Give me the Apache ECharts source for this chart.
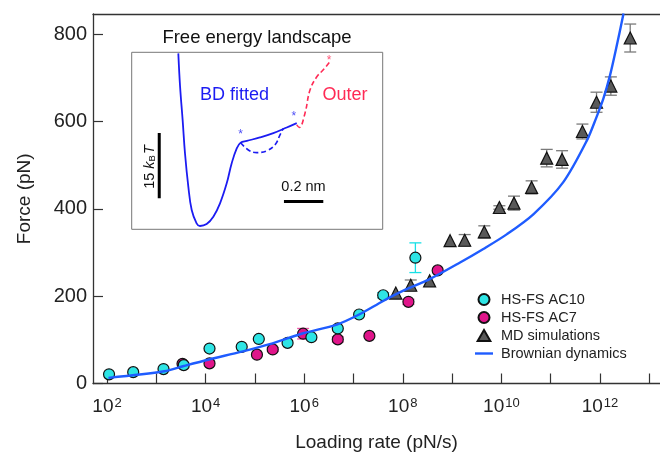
<!DOCTYPE html>
<html>
<head>
<meta charset="utf-8">
<script src="https://cdn.jsdelivr.net/npm/echarts@6/dist/echarts.min.js"></script>
<style>
  html, body { margin: 0; padding: 0; background: #fff; }
  #chart { width: 660px; height: 455px; }
</style>
</head>
<body>
<div id="chart"></div>
<script>
// loading rate (pN/s), force (pN), error (pN)
var ac10Rate  = [1.1e2, 3.4e2, 1.4e3, 3.6e3, 1.2e4, 5.4e4, 1.2e5, 4.6e5, 1.4e6, 4.8e6, 1.3e7, 4.0e7, 1.8e8];
var ac10Force = [21, 26, 33, 42, 80, 84, 102, 93, 106, 126, 158, 202, 288];
var ac10Err   = [0, 0, 0, 0, 0, 0, 0, 0, 0, 0, 0, 6, 34];

var ac7Rate  = [3.4e3, 1.2e4, 1.1e5, 2.3e5, 9.5e5, 4.8e6, 2.1e7, 1.3e8, 5.1e8];
var ac7Force = [45, 46, 66, 78, 114, 101, 109, 187, 259];
var ac7Err   = [0, 0, 0, 4, 12, 6, 0, 6, 0];

var mdRate  = [7.2e7, 1.45e8, 3.5e8, 9.1e8, 1.8e9, 4.5e9, 9.1e9, 1.8e10, 4.1e10, 8.3e10, 1.7e11, 4.4e11, 8.5e11, 1.66e12, 4.1e12];
var mdForce = [207, 225, 235, 327, 328, 347, 403, 413, 449, 516, 513, 577, 644, 681, 791];
var mdErr   = [0, 12, 0, 0, 13, 14, 4, 16, 15, 20, 20, 17, 23, 21, 32];

var bdRate  = [1.07e2, 1.45e3, 3.6e3, 1.17e4, 5.4e4, 2.0e5, 9.5e5, 4.6e6, 1.3e7, 4.0e7, 1.0e8, 3.5e8, 1.45e9, 4.3e9, 1.3e10, 4.5e10, 1.8e11, 5.4e11, 8.5e11, 1.17e12, 1.6e12, 2.2e12, 3.0e12];
var bdForce = [13, 28, 40, 55, 73, 90, 115, 135, 158, 189, 212, 239, 277, 308, 342, 388, 461, 556, 610, 652, 706, 775, 847];

var rateTicks  = [1e2, 1e3, 1e4, 1e5, 1e6, 1e7, 1e8, 1e9, 1e10, 1e11, 1e12, 1e13];
var rateLabels = [1e2, 1e4, 1e6, 1e8, 1e10, 1e12];
var forceTicks = [0, 200, 400, 600, 800];

// inset: free energy landscape, position (nm) vs energy (kBT)
var fitX = [0.237, 0.246, 0.259, 0.271, 0.288, 0.305, 0.330, 0.347, 0.381, 0.415, 0.449, 0.483, 0.508, 0.534, 0.554, 0.585, 0.652, 0.720, 0.788, 0.839];
var fitE = [40.6, 32.9, 25.2, 17.5, 9.8, 4.45, 1.38, 0.76, 1.22, 2.9, 6.0, 10.6, 15.2, 18.7, 20.0, 20.4, 21.2, 22.2, 23.5, 24.5];
var altX = [0.554, 0.593, 0.636, 0.686, 0.729, 0.754, 0.771];
var altE = [20.0, 18.3, 17.7, 18.1, 19.5, 21.8, 23.3];
var outerX = [0.839, 0.852, 0.881, 0.906, 0.941, 0.974, 1.008];
var outerE = [24.1, 23.5, 26.8, 32.1, 35.2, 36.8, 38.7];
var starBlueX = [0.554, 0.824];
var starBlueE = [21.8, 25.9];
var starRedX = [1.003];
var starRedE = [38.8];
var barNmX = [0.774, 0.974];
var barNmE = [6.4, 6.4];
var barKtX = [0.140, 0.140];
var barKtE = [7.15, 22.2];

var FONT = "'Liberation Sans', Arial, Helvetica, sans-serif";

function zip(a, b, c) {
  return a.map(function (v, i) { return c ? [v, b[i], c[i]] : [v, b[i]]; });
}
function withErr(a, b, c) {
  return zip(a, b, c).filter(function (d) { return d[2] > 0; });
}

function errorBars(color, cap) {
  return function (params, api) {
    var x = api.value(0), y = api.value(1), e = api.value(2);
    var lo = api.coord([x, y - e]);
    var hi = api.coord([x, y + e]);
    var st = { stroke: color, lineWidth: 1.3 };
    return {
      type: 'group',
      children: [
        { type: 'line', shape: { x1: lo[0], y1: lo[1], x2: hi[0], y2: hi[1] }, style: st },
        { type: 'line', shape: { x1: lo[0] - cap, y1: lo[1], x2: lo[0] + cap, y2: lo[1] }, style: st },
        { type: 'line', shape: { x1: hi[0] - cap, y1: hi[1], x2: hi[0] + cap, y2: hi[1] }, style: st }
      ]
    };
  };
}

var chart = echarts.init(document.getElementById('chart'), null, { renderer: 'canvas' });

var axisColor = '#333';
var blue = '#1f5cff';
var insetBlue = '#1c1cf2';
var red = '#ff2a55';

chart.setOption({
  backgroundColor: '#fff',
  animation: false,
  textStyle: { fontFamily: FONT },
  grid: [
    { left: 93, top: 14, right: 0, bottom: 71.5, containLabel: false, outerBoundsMode: 'none' },
    { left: 131.7, top: 52.3, width: 251, height: 177, show: true, outerBoundsMode: 'none',
      borderColor: '#777', borderWidth: 1, backgroundColor: '#fff', z: 10 }
  ],
  xAxis: [
    {
      type: 'log', gridIndex: 0, min: 52, max: 1.648e13,
      name: 'Loading rate (pN/s)', nameLocation: 'middle', nameGap: 50,
      nameTextStyle: { fontSize: 19, color: '#222', fontFamily: FONT },
      axisLine: { lineStyle: { color: axisColor, width: 1.3 } },
      axisTick: { inside: true, length: 10, customValues: rateTicks, lineStyle: { color: axisColor, width: 1.2 } },
      axisLabel: {
        customValues: rateLabels, margin: 13, color: '#222', fontSize: 19, fontFamily: FONT,
        formatter: function (v) { return '10{sup|' + Math.round(Math.log10(v)) + '}'; },
        rich: { sup: { fontSize: 13, verticalAlign: 'top', padding: [0, 0, 8, 1], fontFamily: FONT, color: '#222' } }
      },
      splitLine: { show: false }
    },
    {
      type: 'log', gridIndex: 0, position: 'top', min: 52, max: 1.648e13,
      axisLine: { lineStyle: { color: axisColor, width: 1.3 } },
      axisTick: { show: false }, axisLabel: { show: false }, splitLine: { show: false }
    },
    { type: 'value', gridIndex: 1, min: 0, max: 1.276, show: false }
  ],
  yAxis: [
    {
      type: 'value', gridIndex: 0, min: 0, max: 846,
      name: 'Force (pN)', nameLocation: 'middle', nameGap: 59,
      nameTextStyle: { fontSize: 19, color: '#222', fontFamily: FONT },
      axisLine: { show: true, lineStyle: { color: axisColor, width: 1.3 } },
      axisTick: { inside: true, length: 10, customValues: forceTicks, lineStyle: { color: axisColor, width: 1.2 } },
      axisLabel: { customValues: forceTicks, margin: 6, color: '#222', fontSize: 20, fontFamily: FONT },
      splitLine: { show: false }
    },
    { type: 'value', gridIndex: 1, min: 0, max: 40.85, show: false }
  ],
  legend: {
    orient: 'vertical', left: 475, top: 292, padding: 0,
    itemWidth: 18, itemHeight: 11, itemGap: 3,
    selectedMode: false,
    textStyle: { fontSize: 14.5, lineHeight: 15, color: '#222', fontFamily: FONT, padding: [0, 0, 0, 3] },
    data: [
      { name: 'HS-FS AC10' },
      { name: 'HS-FS AC7' },
      { name: 'MD simulations', icon: 'path://M6,0L12,10.4L0,10.4Z' },
      { name: 'Brownian dynamics', icon: 'path://M0,0L18,0L18,2.4L0,2.4Z' }
    ]
  },
  series: [
    {
      name: 'AC10 err', type: 'custom', xAxisIndex: 0, yAxisIndex: 0, z: 1,
      renderItem: errorBars('#19e0e6', 6), data: withErr(ac10Rate, ac10Force, ac10Err)
    },
    {
      name: 'AC7 err', type: 'custom', xAxisIndex: 0, yAxisIndex: 0, z: 1,
      renderItem: errorBars('#ee5aaa', 6), data: withErr(ac7Rate, ac7Force, ac7Err)
    },
    {
      name: 'MD err', type: 'custom', xAxisIndex: 0, yAxisIndex: 0, z: 1,
      renderItem: errorBars('#7a7a7a', 6), data: withErr(mdRate, mdForce, mdErr)
    },
    {
      name: 'HS-FS AC10', type: 'scatter', xAxisIndex: 0, yAxisIndex: 0, z: 4,
      symbol: 'circle', symbolSize: 11,
      itemStyle: { color: '#2ee5e5', borderColor: '#111', borderWidth: 1.2, opacity: 1 },
      data: zip(ac10Rate, ac10Force)
    },
    {
      name: 'HS-FS AC7', type: 'scatter', xAxisIndex: 0, yAxisIndex: 0, z: 3,
      symbol: 'circle', symbolSize: 11,
      itemStyle: { color: '#e0158a', borderColor: '#111', borderWidth: 1.2, opacity: 1 },
      data: zip(ac7Rate, ac7Force)
    },
    {
      name: 'MD simulations', type: 'scatter', xAxisIndex: 0, yAxisIndex: 0, z: 4,
      symbol: 'triangle', symbolSize: 12,
      itemStyle: { color: '#595959', borderColor: '#111', borderWidth: 1.2, opacity: 1 },
      data: zip(mdRate, mdForce)
    },
    {
      name: 'Brownian dynamics', type: 'line', xAxisIndex: 0, yAxisIndex: 0, z: 5,
      symbol: 'none', smooth: 0.3,
      lineStyle: { color: blue, width: 2.4 }, itemStyle: { color: blue },
      data: zip(bdRate, bdForce)
    },
    // inset
    {
      name: 'fit', type: 'line', xAxisIndex: 2, yAxisIndex: 1, z: 12, symbol: 'none', smooth: 0.4,
      lineStyle: { color: insetBlue, width: 1.8 }, data: zip(fitX, fitE)
    },
    {
      name: 'alt', type: 'line', xAxisIndex: 2, yAxisIndex: 1, z: 12, symbol: 'none', smooth: 0.4,
      lineStyle: { color: insetBlue, width: 1.6, type: [5, 3] }, data: zip(altX, altE)
    },
    {
      name: 'outer', type: 'line', xAxisIndex: 2, yAxisIndex: 1, z: 12, symbol: 'none', smooth: 0.4,
      lineStyle: { color: red, width: 1.6, type: [5, 3] }, data: zip(outerX, outerE)
    },
    {
      name: 'starsBlue', type: 'scatter', xAxisIndex: 2, yAxisIndex: 1, z: 12, symbolSize: 0,
      label: { show: true, position: 'inside', formatter: '*', color: insetBlue, fontSize: 12 },
      data: zip(starBlueX, starBlueE)
    },
    {
      name: 'starsRed', type: 'scatter', xAxisIndex: 2, yAxisIndex: 1, z: 12, symbolSize: 0,
      label: { show: true, position: 'inside', formatter: '*', color: red, fontSize: 12 },
      data: zip(starRedX, starRedE)
    },
    {
      name: 'barNm', type: 'line', xAxisIndex: 2, yAxisIndex: 1, z: 12, symbol: 'none',
      lineStyle: { color: '#000', width: 3, cap: 'butt' }, data: zip(barNmX, barNmE)
    },
    {
      name: 'barKt', type: 'line', xAxisIndex: 2, yAxisIndex: 1, z: 12, symbol: 'none',
      lineStyle: { color: '#000', width: 3, cap: 'butt' }, data: zip(barKtX, barKtE)
    }
  ],
  graphic: [
    { type: 'text', x: 257, y: 38, z: 20,
      style: { text: 'Free energy landscape', fontSize: 18.5, fontFamily: FONT, fill: '#111', align: 'center', verticalAlign: 'middle' } },
    { type: 'text', x: 234.5, y: 95, z: 20,
      style: { text: 'BD fitted', fontSize: 18, fontFamily: FONT, fill: insetBlue, align: 'center', verticalAlign: 'middle' } },
    { type: 'text', x: 345, y: 95, z: 20,
      style: { text: 'Outer', fontSize: 18, fontFamily: FONT, fill: red, align: 'center', verticalAlign: 'middle' } },
    { type: 'text', x: 303.5, y: 186.5, z: 20,
      style: { text: '0.2 nm', fontSize: 14.5, fontFamily: FONT, fill: '#111', align: 'center', verticalAlign: 'middle' } },
    { type: 'text', x: 150, y: 167, z: 20, rotation: Math.PI / 2,
      style: {
        text: '15 {i|k}{sub|B}{i|T}', fontSize: 14.5, fontFamily: FONT, fill: '#111', align: 'center', verticalAlign: 'middle',
        rich: {
          i: { fontSize: 14.5, fontStyle: 'italic', fontFamily: FONT, fill: '#111' },
          sub: { fontSize: 9.5, verticalAlign: 'bottom', fontFamily: FONT, fill: '#111', padding: [0, 1, 0, 0] }
        }
      } }
  ]
});
</script>
</body>
</html>
